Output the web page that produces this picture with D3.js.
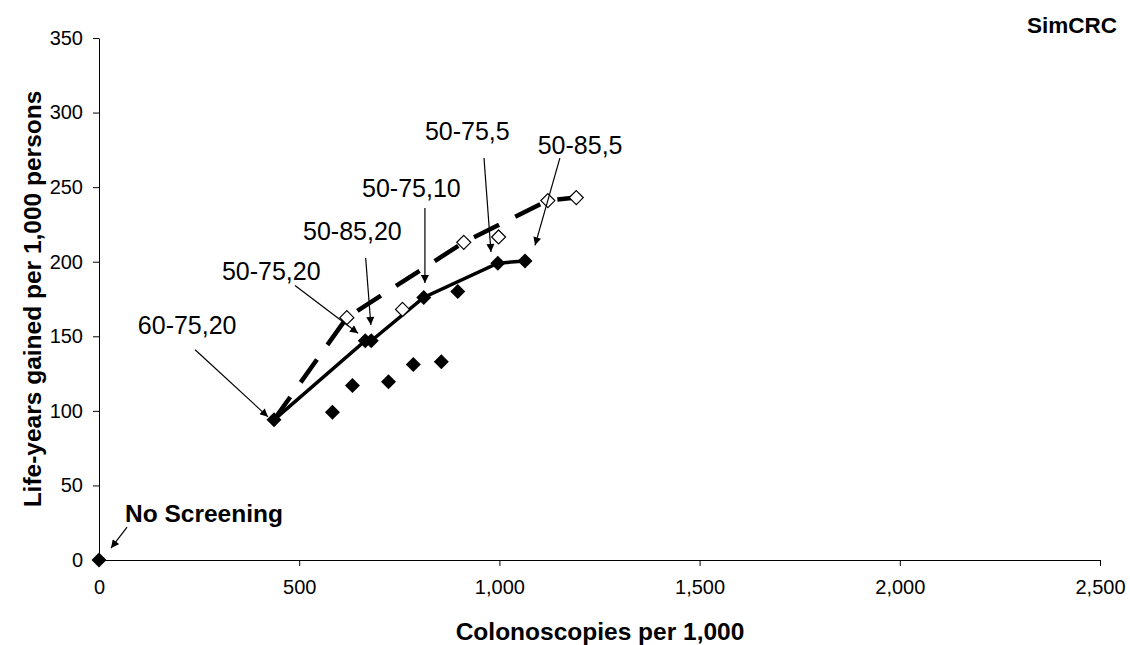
<!DOCTYPE html>
<html>
<head>
<meta charset="utf-8">
<script src="https://cdn.jsdelivr.net/npm/d3@7"></script>
<style>
  body { margin: 0; background: #fff; }
  svg text { font-family: "Liberation Sans", Arial, sans-serif; fill: #000; }
</style>
</head>
<body>
<svg id="chart" width="1130" height="645"></svg>
<script>
// ---- data ----
const xTicks = [0, 500, 1000, 1500, 2000, 2500];
const yTicks = [0, 50, 100, 150, 200, 250, 300, 350];

// efficient frontier (solid line, filled diamonds)
const solidLineX = [437, 665, 680, 811, 996, 1064];
const solidLineY = [94, 147, 147, 176, 199, 200.5];

// dashed line, open diamonds
const dashedLineX = [437, 619, 911, 1121, 1192];
const dashedLineY = [94, 162.5, 213, 241, 243];

// other open diamonds
const openExtraX = [758, 998];
const openExtraY = [168, 216.6];

// other filled diamonds
const filledExtraX = [583, 633, 723, 785, 855, 896];
const filledExtraY = [99, 117, 119.5, 131, 133, 180];

// no screening point
const noScreenX = [0];
const noScreenY = [0];

// annotation labels
const annLabels = ["60-75,20", "50-75,20", "50-85,20", "50-75,10", "50-75,5", "50-85,5"];
const annTextX = [97, 307, 509.5, 657, 814, 1095.7];
const annTextY = [151.5, 188, 214.8, 243.4, 281.6, 272.2];
const annFromX = [240, 489.5, 666, 814, 961.5, 1151];
const annFromY = [141, 184, 202.5, 236, 269.5, 269.5];
const annToX = [422, 647, 679, 814, 979, 1089];
const annToY = [96, 152, 157.6, 185.7, 206.5, 211];

// ---- chart ----
const svg = d3.select("#chart");
const x = d3.scaleLinear().domain([0, 2500]).range([99, 1100]);
const y = d3.scaleLinear().domain([0, 350]).range([560, 38]);

svg.append("defs").append("marker")
  .attr("id", "arrow")
  .attr("viewBox", "0 0 10 10")
  .attr("refX", 10).attr("refY", 5)
  .attr("markerWidth", 9).attr("markerHeight", 8)
  .attr("markerUnits", "userSpaceOnUse")
  .attr("orient", "auto")
  .append("path").attr("d", "M0,0 L10,5 L0,10 Z").attr("fill", "#000");

// axes
const xAxis = svg.append("g").attr("transform", `translate(0,${y(0)})`)
  .call(d3.axisBottom(x).tickValues(xTicks).tickFormat(d3.format(",")).tickSizeInner(6).tickSizeOuter(0).tickPadding(14));
const yAxis = svg.append("g").attr("transform", `translate(${x(0)},0)`)
  .call(d3.axisLeft(y).tickValues(yTicks).tickSizeInner(6).tickSizeOuter(0).tickPadding(10));
[xAxis, yAxis].forEach(g => {
  g.selectAll("text").style("font-size", "20px").style("font-family", "Liberation Sans, Arial, sans-serif");
  g.selectAll("line,path").attr("stroke", "#000").attr("stroke-width", 1);
  g.select(".domain").attr("stroke", "#000");
});

// axis titles
svg.append("text")
  .attr("x", 600).attr("y", 640)
  .attr("text-anchor", "middle")
  .style("font-size", "24.5px").style("font-weight", "bold")
  .text("Colonoscopies per 1,000");
svg.append("text")
  .attr("transform", `translate(41,299) rotate(-90)`)
  .attr("text-anchor", "middle")
  .style("font-size", "24.5px").style("font-weight", "bold")
  .text("Life-years gained per 1,000 persons");

svg.append("text")
  .attr("x", 1117).attr("y", 33)
  .attr("text-anchor", "end")
  .style("font-size", "22.5px").style("font-weight", "bold")
  .text("SimCRC");

// lines
const line = d3.line().x(d => x(d[0])).y(d => y(d[1]));
const dashedPts = dashedLineX.map((v, i) => [v, dashedLineY[i]]);
const solidPts = solidLineX.map((v, i) => [v, solidLineY[i]]);

svg.append("path").datum(dashedPts).attr("d", line)
  .attr("fill", "none").attr("stroke", "#000").attr("stroke-width", 4.5)
  .attr("stroke-dasharray", "28,18");
svg.append("path").datum(solidPts).attr("d", line)
  .attr("fill", "none").attr("stroke", "#000").attr("stroke-width", 3.5);

// diamonds
function diamondPath(r) {
  return `M0,${-r} L${r},0 L0,${r} L${-r},0 Z`;
}
function drawDiamonds(xs, ys, filled) {
  svg.append("g").selectAll("path").data(xs.map((v, i) => [v, ys[i]])).join("path")
    .attr("transform", d => `translate(${x(d[0])},${y(d[1])})`)
    .attr("d", diamondPath(filled ? 7.5 : 7))
    .attr("fill", filled ? "#000" : "#fff")
    .attr("stroke", "#000").attr("stroke-width", filled ? 0 : 1.2);
}
drawDiamonds(filledExtraX, filledExtraY, true);
drawDiamonds(solidLineX, solidLineY, true);
drawDiamonds(dashedLineX.slice(1), dashedLineY.slice(1), false);
drawDiamonds(openExtraX, openExtraY, false);
drawDiamonds(noScreenX, noScreenY, true);

// annotations
annLabels.forEach((lab, i) => {
  svg.append("text")
    .attr("x", x(annTextX[i])).attr("y", y(annTextY[i]))
    .style("font-size", "25px")
    .text(lab);
  svg.append("line")
    .attr("x1", x(annFromX[i])).attr("y1", y(annFromY[i]))
    .attr("x2", x(annToX[i])).attr("y2", y(annToY[i]))
    .attr("stroke", "#000").attr("stroke-width", 1.2)
    .attr("marker-end", "url(#arrow)");
});

svg.append("text")
  .attr("x", x(65)).attr("y", y(25.5))
  .style("font-size", "24.5px").style("font-weight", "bold")
  .text("No Screening");
svg.append("line")
  .attr("x1", x(70)).attr("y1", y(22))
  .attr("x2", x(30)).attr("y2", y(8))
  .attr("stroke", "#000").attr("stroke-width", 1.2)
  .attr("marker-end", "url(#arrow)");
</script>
</body>
</html>
